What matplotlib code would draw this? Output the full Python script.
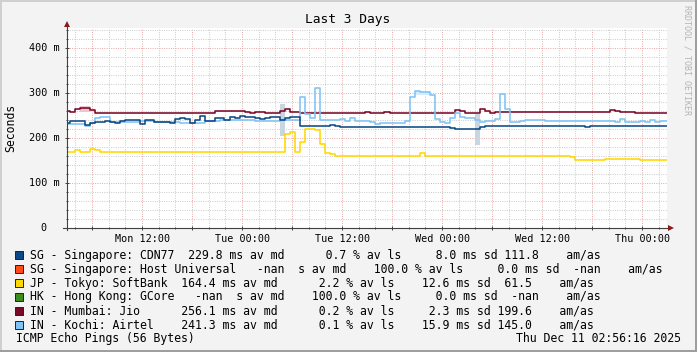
import matplotlib
matplotlib.use("Agg")
import matplotlib.pyplot as plt
from matplotlib.patches import Rectangle
import numpy as np

plt.rcParams['font.family'] = ['DejaVu Sans Mono', 'DejaVu Sans']

# ---------------- data (time in hours since Mon 00:00, values in ms) -------------
T_START, T_END = 2.93, 74.93

cdn77_t = [2.93, 3.3, 5.1, 5.7, 6.3, 7.6, 8.2, 8.7, 9.3, 9.9, 11.7, 12.3, 13.4, 15.3,
           15.9, 16.5, 17.1, 17.7, 18.3, 18.9, 19.5, 20.7, 21.8, 22.5, 23.1, 23.7, 24.3,
           25.5, 26.1, 26.7, 27.3, 28.6, 29.2, 29.8, 30.9, 34.5, 35.1, 35.7, 49.0, 49.6,
           52.6, 53.2, 65.1, 65.7, 74.93]
cdn77_v = [233, 239, 230, 233, 236, 239, 236, 234, 239, 240, 231, 240, 236, 233,
           243, 244, 243, 233, 241, 250, 239, 244, 241, 247, 244, 250, 248,
           244, 242, 244, 247, 241, 244, 247, 227, 229, 227, 224, 223, 221,
           224, 227, 224, 227, 227]

softbank_t = [2.93, 3.9, 4.5, 5.7, 6.3, 6.9, 29.2, 29.8, 30.3, 30.9, 31.5, 32.7, 33.3,
              33.9, 34.5, 35.1, 45.4, 46.0, 63.3, 63.9, 67.6, 71.8, 74.93]
softbank_v = [169, 173, 169, 176, 173, 169, 209, 213, 169, 191, 220, 218, 187,
              168, 165, 161, 167, 161, 158, 152, 153, 151, 151]

jio_t = [2.93, 3.3, 4.0, 4.5, 5.7, 6.3, 20.7, 24.3, 24.9, 25.5, 26.8, 28.6, 29.1, 29.7,
         30.9, 38.8, 39.4, 41.0, 41.8, 48.4, 49.5, 50.1, 50.8, 52.5, 53.2, 53.8, 54.4,
         68.1, 68.7, 69.3, 71.1, 74.93]
jio_v = [261, 259, 264, 268, 263, 256, 261, 258, 257, 258, 256, 261, 265, 259,
         256, 258, 256, 258, 256, 257, 262, 260, 256, 266, 261, 257, 258,
         262, 260, 258, 256, 256]

airtel_t = [2.93, 5.2, 5.7, 6.4, 6.9, 8.1, 11.6, 13.4, 16.6, 19.6, 21.4, 25.5, 28.6,
            30.9, 31.5, 32.1, 32.7, 33.3, 35.7, 36.3, 36.9, 37.5, 39.3, 39.9, 40.6,
            43.6, 44.2, 44.8, 45.4, 46.6, 47.2, 47.8, 48.4, 49.0, 49.6, 50.2, 50.8,
            51.4, 52.0, 52.6, 53.2, 54.4, 55.0, 55.6, 56.2, 57.4, 58.0, 60.3, 68.7,
            69.3, 69.9, 71.7, 72.3, 72.9, 73.5, 74.1, 74.93]
airtel_v = [231, 227, 233, 244, 248, 237, 239, 236, 235, 238, 241, 238, 241,
            291, 253, 244, 312, 241, 242, 239, 244, 238, 236, 232, 233,
            238, 291, 305, 302, 296, 243, 237, 233, 245, 256, 248, 244,
            245, 241, 237, 239, 242, 298, 265, 236, 238, 241, 238, 236,
            242, 236, 238, 236, 240, 236, 238, 238]

# smoke (spread) patches: start hour, end hour, low ms, high ms
cdn77_smoke = [(28.6, 29.2, 204, 276), (52.0, 52.6, 185, 253)]
jio_smoke = [(4.5, 5.7, 259, 272)]
airtel_smoke = [(44.8, 46.6, 296, 306)]

legend_labels = [
    "SG - Singapore: CDN77  229.8 ms av md      0.7 % av ls     8.0 ms sd 111.8    am/as",
    "SG - Singapore: Host Universal   -nan  s av md    100.0 % av ls     0.0 ms sd  -nan    am/as",
    "JP - Tokyo: SoftBank  164.4 ms av md      2.2 % av ls    12.6 ms sd  61.5    am/as",
    "HK - Hong Kong: GCore   -nan  s av md    100.0 % av ls     0.0 ms sd  -nan    am/as",
    "IN - Mumbai: Jio      256.1 ms av md      0.2 % av ls     2.3 ms sd 199.6    am/as",
    "IN - Kochi: Airtel    241.3 ms av md      0.1 % av ls    15.9 ms sd 145.0    am/as",
]
legend_colors = ['#0b4a86', '#ff4a1c', '#ffd800', '#3d8c1c', '#7a0828', '#80c4f6']

x_major = list(range(6, 75, 6))
x_labels = ['', 'Mon 12:00', '', 'Tue 00:00', '', 'Tue 12:00', '', 'Wed 00:00',
            '', 'Wed 12:00', '', 'Thu 00:00']
y_major = [0, 100, 200, 300, 400]
y_labels = ['0', '100 m', '200 m', '300 m', '400 m']

# ---------------- figure ----------------
W, H = 697, 352
fig = plt.figure(figsize=(W / 100, H / 100), dpi=100, facecolor='#f3f3f3')

AX_L, AX_R, AX_T, AX_B = 66.5, 666.5, 28.0, 228.3
ax = fig.add_axes([AX_L / W, 1 - AX_B / H, (AX_R - AX_L) / W, (AX_B - AX_T) / H])
ax.set_facecolor('white')
ax.set_xlim(T_START, T_END)
ax.set_ylim(0, 445)

# grid
ax.set_xticks(x_major)
ax.set_xticks(np.arange(4, 75, 2), minor=True)
ax.set_yticks(y_major)
ax.set_yticks(np.arange(20, 445, 20), minor=True)
ax.grid(which='minor', color='#cdcdcd', linestyle=(0, (1, 1.3)), linewidth=0.72)
ax.grid(which='major', color='#eaaaaa', linestyle=(0, (1, 1.3)), linewidth=0.72)
ax.set_axisbelow(True)

for s in ax.spines.values():
    s.set_visible(False)

ax.set_xticklabels(x_labels)
ax.set_yticklabels([])
ax.tick_params(axis='both', which='major', direction='inout', length=3.5, width=0.7,
               color='#404040')
ax.tick_params(axis='both', which='minor', direction='inout', length=1.6, width=0.7,
               color='#404040')
ax.tick_params(axis='x', which='major', labelsize=7.25, pad=2.6)

# y labels (right aligned, number column)
for v, lab in zip(y_major, y_labels):
    xoff = -7.2 if lab != '0' else -19.8
    ax.text(xoff / (AX_R - AX_L), v, lab, transform=ax.get_yaxis_transform(),
            ha='right', va='center', fontsize=7.25, color='black')

# smoke
for smoke, col in [(cdn77_smoke, '#c9d6e2'), (jio_smoke, '#ecc6cf'), (airtel_smoke, '#d6ebfb')]:
    for t0, t1, lo, hi in smoke:
        ax.fill_between([t0, t1], [lo, lo], [hi, hi], color=col, lw=0, zorder=2)

# lines
lw = 1.15
ax.step(jio_t, jio_v, where='post', color=legend_colors[4], lw=lw, zorder=3)
ax.step(softbank_t, softbank_v, where='post', color=legend_colors[2], lw=lw, zorder=3)
ax.step(airtel_t, airtel_v, where='post', color=legend_colors[5], lw=lw, zorder=3)
ax.step(cdn77_t, cdn77_v, where='post', color=legend_colors[0], lw=lw, zorder=4)

# axis lines and arrows
ax.plot([-0.006, 1.004], [0, 0], transform=ax.transAxes, clip_on=False,
        color='#404040', lw=0.8, zorder=5)
ax.plot([0, 0], [-0.01, 1.015], transform=ax.transAxes, clip_on=False,
        color='#404040', lw=0.8, zorder=5)
ax.plot([1.0072], [0], marker='>', markersize=4.2, color='#8b1c1c',
        transform=ax.transAxes, clip_on=False, zorder=6, markeredgewidth=0)
ax.plot([0], [1.0215], marker='^', markersize=4.2, color='#8b1c1c',
        transform=ax.transAxes, clip_on=False, zorder=6, markeredgewidth=0)


def fx(x):
    return x / W


def fy(y):
    return 1 - y / H


# title, axis title, watermark
fig.text(fx(347.7), fy(19.5), 'Last 3 Days', ha='center', va='center', fontsize=9.3)
fig.text(fx(10.8), fy(128), 'Seconds', ha='center', va='center', rotation=90,
         fontsize=8.3)
fig.text(fx(687), fy(5), 'RRDTOOL / TOBI OETIKER', ha='center', va='top', rotation=270,
         fontsize=6, color='#b4b4b4')

# legend
row_y0, row_dy = 255.3, 13.85
for i, (lab, col) in enumerate(zip(legend_labels, legend_colors)):
    yc = row_y0 + i * row_dy
    fig.add_artist(Rectangle((fx(14.7), fy(yc + 4)), 8 / W, 8 / H, facecolor=col,
                             edgecolor='#202020', lw=0.7, transform=fig.transFigure))
    fig.text(fx(30.2), fy(yc), lab, ha='left', va='center', fontsize=8.3)

yb = row_y0 + 6 * row_dy
fig.text(fx(16.4), fy(yb), 'ICMP Echo Pings (56 Bytes)', ha='left', va='center', fontsize=8.3)
fig.text(fx(680.5), fy(yb), 'Thu Dec 11 02:56:16 2025', ha='right', va='center', fontsize=8.3)

# 3D border
fig.add_artist(Rectangle((0, fy(2)), 1, 2 / H, facecolor='#cfcfcf', lw=0, transform=fig.transFigure))
fig.add_artist(Rectangle((0, 0), 2 / W, 1, facecolor='#cfcfcf', lw=0, transform=fig.transFigure))
fig.add_artist(Rectangle((0, 0), 1, 2 / H, facecolor='#9e9e9e', lw=0, transform=fig.transFigure))
fig.add_artist(Rectangle((1 - 2 / W, 0), 2 / W, 1, facecolor='#9e9e9e', lw=0, transform=fig.transFigure))

fig.savefig('out.png', dpi=100, facecolor=fig.get_facecolor())
